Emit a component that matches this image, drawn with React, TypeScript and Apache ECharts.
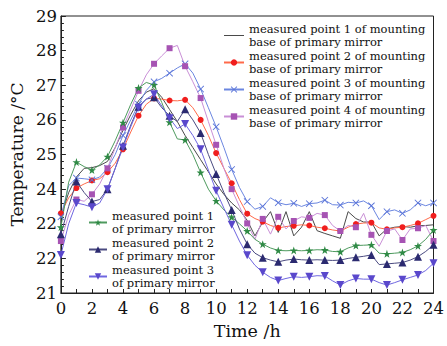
import React, { useEffect, useRef } from 'react';
import * as echarts from 'echarts';

// time axis (h), half-hour samples
const HOURS = [
  0, 0.5, 1, 1.5, 2, 2.5, 3, 3.5, 4, 4.5, 5, 5.5, 6, 6.5, 7, 7.5, 8, 8.5, 9, 9.5,
  10, 10.5, 11, 11.5, 12, 12.5, 13, 13.5, 14, 14.5, 15, 15.5, 16, 16.5, 17, 17.5,
  18, 18.5, 19, 19.5, 20, 20.5, 21, 21.5, 22, 22.5, 23, 23.5, 24,
];

// measured point 1 of mounting base of primary mirror
const MOUNT1 = [
  23.2, 23.9, 24.35, 24.6, 24.62, 24.68, 24.8, 25.2, 25.7, 26.15, 26.55, 26.8, 26.9, 26.65, 26.3, 25.95,
  25.55, 25.2, 24.85, 24.5, 24.15, 23.85, 23.6, 23.4, 23.1, 22.65, 23.05, 23.35, 22.75, 23.35, 22.65, 22.9,
  23.35, 22.8, 22.72, 22.65, 22.58, 23.35, 23.15, 23.05, 23.05, 22.65, 22.85, 22.9, 22.92, 22.9, 22.94, 22.95, 22.97,
];
// measured point 2 of mounting base
const MOUNT2 = [
  23.3, 23.75, 24.03, 24.15, 24.25, 24.3, 24.49, 24.75, 25.15, 25.65, 26.12, 26.45, 26.62, 26.6, 26.56, 26.55,
  26.58, 26.35, 26.0, 25.55, 25.04, 24.6, 24.17, 23.7, 23.29, 23.15, 23.06, 22.95, 22.88, 22.92, 22.94, 22.97,
  22.95, 22.9, 22.87, 22.82, 22.79, 22.9, 22.99, 23.02, 23.03, 22.88, 22.84, 22.88, 22.9, 22.95, 23.01, 23.12, 23.23,
];
// measured point 3 of mounting base
const MOUNT3 = [
  23.2, 24.1, 24.32, 24.3, 24.27, 24.35, 24.6, 25.0, 25.55, 26.0, 26.45, 26.85, 27.1, 27.2, 27.35, 27.5,
  27.62, 27.35, 26.89, 26.35, 25.8, 25.2, 24.57, 24.05, 23.64, 23.42, 23.5, 23.75, 23.61, 23.55, 23.59, 23.5,
  23.58, 23.6, 23.68, 23.55, 23.54, 23.62, 23.6, 23.66, 23.52, 23.12, 23.35, 23.4, 23.3, 23.4, 23.6, 23.52, 23.6,
];
// measured point 4 of mounting base
const MOUNT4 = [
  22.5, 23.25, 23.7, 23.65, 23.85, 24.15, 24.6, 25.2, 25.78, 26.3, 26.84, 27.3, 27.62, 27.85, 28.07, 28.15,
  27.55, 27.1, 26.63, 25.95, 25.28, 24.6, 24.0, 23.5, 23.01, 22.55, 23.14, 22.7, 23.2, 22.85, 23.08, 23.2,
  23.17, 23.3, 23.25, 22.95, 22.79, 22.95, 22.9, 23.3, 22.68, 22.35, 22.79, 22.85, 22.53, 22.85, 22.87, 22.95, 22.5,
];
// measured point 1 of primary mirror
const MIRROR1 = [
  22.9, 24.2, 24.78, 24.65, 24.55, 24.7, 24.94, 25.4, 25.92, 26.45, 26.92, 27.08, 27.01, 26.5, 25.93, 25.45,
  25.42, 25.0, 24.48, 24.0, 23.66, 23.4, 23.19, 23.0, 22.79, 22.55, 22.41, 22.3, 22.23, 22.22, 22.23, 22.22,
  22.23, 22.25, 22.24, 22.2, 22.19, 22.3, 22.37, 22.38, 22.39, 22.15, 22.13, 22.15, 22.17, 22.25, 22.36, 22.55, 22.82,
];
// measured point 2 of primary mirror
const MIRROR2 = [
  22.7, 23.5, 24.22, 23.9, 23.64, 23.7, 24.0, 24.6, 25.25, 25.85, 26.38, 26.6, 26.65, 26.35, 26.12, 25.95,
  26.31, 26.0, 25.62, 25.0, 24.44, 23.9, 23.4, 22.85, 22.41, 22.15, 22.02, 21.95, 21.9, 21.95, 21.98, 21.96,
  21.95, 21.96, 21.95, 21.94, 21.95, 22.0, 22.03, 22.06, 22.1, 21.82, 21.84, 21.86, 21.88, 21.95, 22.05, 22.2, 22.39,
];
// measured point 3 of primary mirror
const MIRROR3 = [
  22.1, 23.0, 23.6, 23.55, 23.48, 23.6, 24.0, 24.6, 25.2, 25.8, 26.35, 26.6, 26.74, 26.4, 26.05, 25.75,
  25.88, 25.55, 25.15, 24.55, 23.95, 23.45, 22.97, 22.5, 22.09, 21.8, 21.6, 21.45, 21.36, 21.42, 21.47, 21.45,
  21.47, 21.5, 21.49, 21.35, 21.23, 21.35, 21.42, 21.4, 21.4, 21.3, 21.23, 21.3, 21.38, 21.45, 21.52, 21.65, 21.86,
];

// tick labels as printed in the figure (value 23 is labelled "22" there)
const Y_TICK_LABELS = ['21', '22', '22', '24', '25', '26', '27', '28', '29'];

const NAMES = [
  'measured point 1 of mounting base of primary mirror',
  'measured point 2 of mounting base of primary mirror',
  'measured point 3 of mounting base of primary mirror',
  'measured point 4 of mounting base of primary mirror',
  'measured point 1 of primary mirror',
  'measured point 2 of primary mirror',
  'measured point 3 of primary mirror',
];
const LEGEND_TEXT: Record<string, string> = {
  [NAMES[0]]: 'measured point 1 of mounting\nbase of primary mirror',
  [NAMES[1]]: 'measured point 2 of mounting\nbase of primary mirror',
  [NAMES[2]]: 'measured point 3 of mounting\nbase of primary mirror',
  [NAMES[3]]: 'measured point 4 of mounting\nbase of primary mirror',
  [NAMES[4]]: 'measured point 1\nof primary mirror',
  [NAMES[5]]: 'measured point 2\nof primary mirror',
  [NAMES[6]]: 'measured point 3\nof primary mirror',
};

const STAR =
  'path://M5,0 L6.18,3.45 L9.76,3.45 L6.9,5.59 L7.94,9.05 L5,6.9 L2.06,9.05 L3.1,5.59 L0.24,3.45 L3.82,3.45 Z';
const CROSS =
  'path://M0,0.9 L0.9,0 L5,4.1 L9.1,0 L10,0.9 L5.9,5 L10,9.1 L9.1,10 L5,5.9 L0.9,10 L0,9.1 L4.1,5 Z';
const TRI_DOWN = 'path://M0,0 L10,0 L5,8.66 Z';
const LINE_ICON = 'path://M0,0 L20,0 L20,1 L0,1 Z';

const FONT = '"DejaVu Serif", serif';

function buildData(values: number[]) {
  return HOURS.map((h, i) =>
    Number.isInteger(h) ? [h, values[i]] : { value: [h, values[i]], symbol: 'none' }
  );
}

export default function App() {
  const ref = useRef<HTMLDivElement>(null);
  useEffect(() => {
    if (!ref.current) return;
    const chart = echarts.init(ref.current, null, { renderer: 'svg' });
    const mk = (
      name: string,
      values: number[],
      lineColor: string,
      markColor: string,
      symbol: string,
      size: number
    ) => ({
      name,
      type: 'line',
      data: buildData(values),
      symbol,
      symbolSize: size,
      showAllSymbol: true,
      lineStyle: { color: lineColor, width: 1 },
      itemStyle: { color: markColor, borderWidth: 0 },
      emphasis: { disabled: true },
    });
    const series = [
      mk(NAMES[0], MOUNT1, '#4a4a4a', '#4a4a4a', 'none', 0),
      mk(NAMES[1], MOUNT2, '#ff6a4a', '#f01e1e', 'circle', 6),
      mk(NAMES[2], MOUNT3, '#6b86e0', '#5a74d8', CROSS, 7),
      mk(NAMES[3], MOUNT4, '#c98fd6', '#a653b3', 'rect', 6),
      mk(NAMES[4], MIRROR1, '#4e9a5e', '#2f8a45', STAR, 8),
      mk(NAMES[5], MIRROR2, '#4a4a80', '#2b2a70', 'triangle', 8),
      mk(NAMES[6], MIRROR3, '#6f66e0', '#5a48cc', TRI_DOWN, 8),
    ];
    const legendCommon = {
      orient: 'vertical',
      itemGap: 0,
      itemHeight: 8,
      padding: 0,
      selectedMode: false,
      formatter: (n: string) => LEGEND_TEXT[n] || n,
      textStyle: { fontFamily: FONT, fontSize: 11.5, lineHeight: 13.5, color: '#111' },
    };
    const axisColor = '#222';
    chart.setOption({
      animation: false,
      backgroundColor: '#fff',
      grid: {
        left: 59,
        right: 12,
        top: 16,
        bottom: 53,
        show: true,
        borderColor: axisColor,
        borderWidth: 1,
        backgroundColor: 'transparent',
      },
      legend: [
        {
          ...legendCommon,
          data: [{ name: NAMES[0], icon: LINE_ICON }, NAMES[1], NAMES[2], NAMES[3]],
          left: 223,
          top: 22,
          itemWidth: 20,
        },
        { ...legendCommon, data: NAMES.slice(4), left: 88, top: 209, itemWidth: 18 },
      ],
      xAxis: {
        type: 'value',
        min: 0,
        max: 24,
        interval: 2,
        axisLine: { lineStyle: { color: axisColor } },
        axisTick: { inside: true, length: 4, lineStyle: { color: axisColor } },
        minorTick: { show: true, splitNumber: 2, length: 4, lineStyle: { color: axisColor } },
        splitLine: { show: false },
        axisLabel: { fontFamily: FONT, fontSize: 16.5, color: '#111', margin: 7 },
        name: 'Time /h',
        nameLocation: 'middle',
        nameGap: 27,
        nameTextStyle: { fontFamily: FONT, fontSize: 17.5, color: '#111' },
      },
      yAxis: {
        type: 'value',
        min: 21,
        max: 29,
        interval: 1,
        axisLine: { show: true, lineStyle: { color: axisColor } },
        axisTick: { inside: true, length: 5, lineStyle: { color: axisColor } },
        minorTick: { show: true, splitNumber: 5, length: 3, lineStyle: { color: axisColor } },
        splitLine: { show: false },
        axisLabel: {
          fontFamily: FONT,
          fontSize: 16.5,
          color: '#111',
          margin: 4,
          formatter: (v: number) => Y_TICK_LABELS[Math.round(v - 21)],
        },
        name: 'Temperature /°C',
        nameLocation: 'middle',
        nameGap: 35,
        nameRotate: 90,
        nameTextStyle: { fontFamily: FONT, fontSize: 17, color: '#111' },
      },
      series,
    });
    return () => chart.dispose();
  }, []);
  return (
    <div
      ref={ref}
      style={{ position: 'fixed', left: 0, top: 0, width: 447, height: 346 }}
    />
  );
}
